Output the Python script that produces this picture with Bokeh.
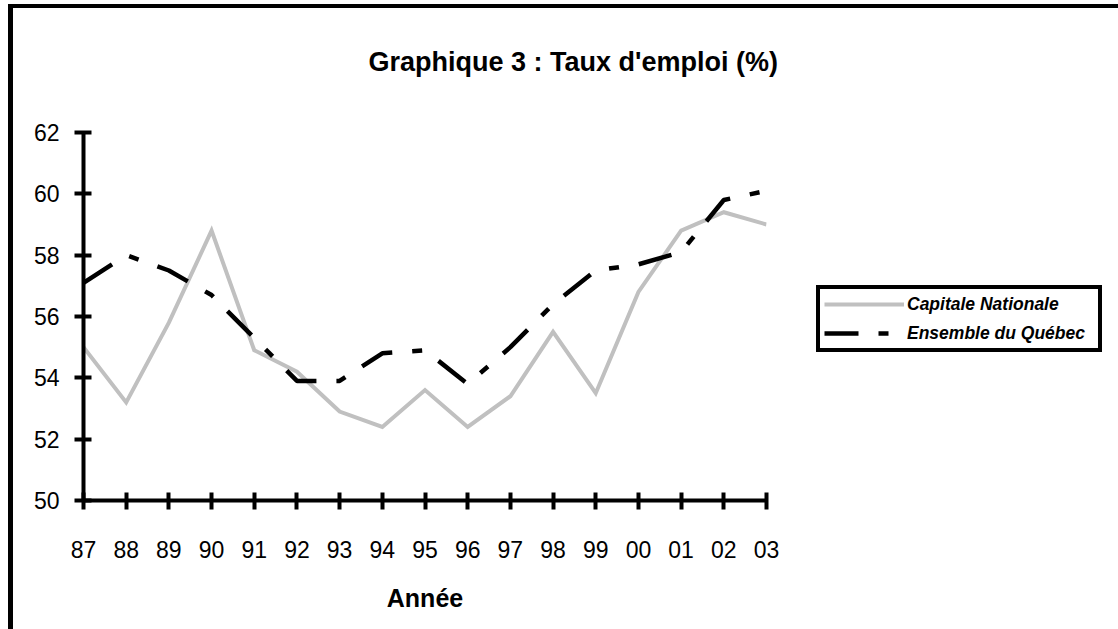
from bokeh.plotting import figure
from bokeh.models import FixedTicker, Legend, LegendItem, Title, Range1d
from bokeh.embed import file_html
from bokeh.resources import INLINE

years = ["87", "88", "89", "90", "91", "92", "93", "94", "95", "96",
         "97", "98", "99", "00", "01", "02", "03"]
capitale = [55.0, 53.2, 55.8, 58.8, 54.9, 54.2, 52.9, 52.4, 53.6, 52.4,
            53.4, 55.5, 53.5, 56.8, 58.8, 59.4, 59.0]
quebec = [57.1, 58.0, 57.5, 56.7, 55.3, 53.9, 53.9, 54.8, 54.9, 53.8,
          55.0, 56.4, 57.5, 57.7, 58.1, 59.8, 60.1]
y_ticks = [50, 52, 54, 56, 58, 60, 62]

title_text = "Graphique 3 : Taux d'emploi (%)"
x_title = "Année"
series_names = ["Capitale Nationale", "Ensemble du Québec"]

FONT = "Liberation Sans"
xs = list(range(len(years)))

p = figure(frame_width=683, frame_height=368, title=None,
           min_border_left=70, min_border_top=124, min_border_right=352, min_border_bottom=129,
           x_range=Range1d(0, len(years) - 1), y_range=Range1d(y_ticks[0], y_ticks[-1]),
           output_backend="svg", toolbar_location=None,
           styles={"border-left": "5px solid black", "border-top": "4px solid black",
                   "margin-left": "8px", "margin-top": "4px"})

# invisible spacer title between the frame and the real title
p.add_layout(Title(text=" ", text_font=FONT, text_font_size="10px", standoff=43), "above")
p.add_layout(Title(text=title_text, align="left", offset=285,
                   text_font=FONT, text_font_size="27px", text_font_style="bold",
                   text_color="black", standoff=0), "above")

p.outline_line_color = None
p.grid.visible = False
p.background_fill_color = "white"
p.border_fill_color = "white"

for ax in (p.xaxis[0], p.yaxis[0]):
    ax.axis_line_width = 4
    ax.axis_line_color = "black"
    ax.major_tick_line_width = 4
    ax.major_tick_line_color = "black"
    ax.major_tick_in = 8
    ax.major_tick_out = 9
    ax.minor_tick_line_color = None
    ax.major_label_text_font = FONT
    ax.major_label_text_font_size = "23px"
    ax.major_label_text_color = "black"

p.xaxis.ticker = FixedTicker(ticks=xs)
p.xaxis.major_label_overrides = {i: y for i, y in enumerate(years)}
p.xaxis.major_label_standoff = 31
p.xaxis.axis_label = x_title
p.xaxis.axis_label_text_font = FONT
p.xaxis.axis_label_text_font_size = "25px"
p.xaxis.axis_label_text_font_style = "bold"
p.xaxis.axis_label_text_color = "black"
p.xaxis.axis_label_standoff = 23

p.yaxis.ticker = FixedTicker(ticks=y_ticks)
p.yaxis.major_label_standoff = 15

r1 = p.line(xs, capitale, line_color="#c0c0c0", line_width=4, line_join="miter")
r2 = p.line(xs, quebec, line_color="black", line_width=4.5, line_dash="34 20 10 20")

legend = Legend(items=[LegendItem(label=series_names[0], renderers=[r1]),
                       LegendItem(label=series_names[1], renderers=[r2])],
                location=(50, 148), orientation="vertical",
                border_line_color="black", border_line_width=4, border_line_alpha=1,
                background_fill_color="white", background_fill_alpha=1,
                label_text_font=FONT, label_text_font_size="17.5px",
                label_text_font_style="bold italic", label_text_color="black",
                glyph_width=80, glyph_height=22, label_height=22, label_width=187,
                label_standoff=3, spacing=7, padding=4, margin=0)
p.add_layout(legend, "right")

open("out.html", "w").write(file_html(p, INLINE))
